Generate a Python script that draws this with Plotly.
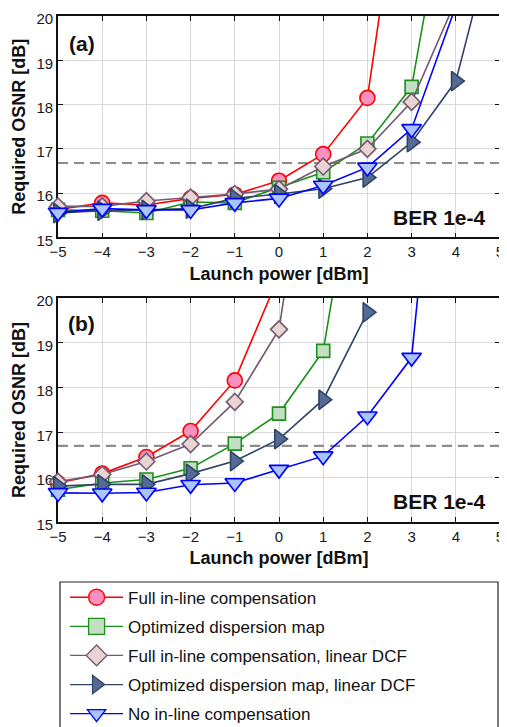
import plotly.graph_objects as go

# ---------------- data ----------------
power_a = [-5, -4, -3, -2, -1, 0, 1, 2, 3, 4, 5]
power_b = [-5, -4, -3, -2, -1, 0, 1, 2, 3, 4, 5]

full_a     = [15.63, 15.78, 15.73, 15.88, 15.97, 16.28, 16.88, 18.15, 25.0]
opt_a      = [15.62, 15.60, 15.55, 15.80, 15.78, 16.12, 16.47, 17.12, 18.40, 24.0]
fulllin_a  = [15.70, 15.70, 15.82, 15.90, 15.98, 16.09, 16.60, 17.00, 18.06, 20.35]
optlin_a   = [15.55, 15.60, 15.62, 15.65, 15.88, 15.98, 16.10, 16.35, 17.15, 18.53, 22.4]
none_a     = [15.56, 15.65, 15.62, 15.62, 15.78, 15.88, 16.17, 16.58, 17.45, 20.22]

full_b     = [15.87, 16.08, 16.45, 17.03, 18.16, 20.5]
opt_b      = [15.72, 15.87, 15.95, 16.20, 16.75, 17.42, 18.82, 24.7]
fulllin_b  = [15.90, 16.06, 16.35, 16.74, 17.68, 19.30, 25.7]
optlin_b   = [15.80, 15.84, 15.84, 16.08, 16.36, 16.85, 17.73, 19.68]
none_b     = [15.65, 15.64, 15.66, 15.83, 15.87, 16.17, 16.47, 17.36, 18.67, 28.5]

threshold_a = 16.68
threshold_b = 16.70

series_names = [
    "Full in-line compensation",
    "Optimized dispersion map",
    "Full in-line compensation, linear DCF",
    "Optimized dispersion map, linear DCF",
    "No in-line compensation",
]
panel_a = [full_a, opt_a, fulllin_a, optlin_a, none_a]
panel_b = [full_b, opt_b, fulllin_b, optlin_b, none_b]

x_ticks = [-5, -4, -3, -2, -1, 0, 1, 2, 3, 4, 5]
y_ticks = [15, 16, 17, 18, 19, 20]
panel_labels = ["(a)", "(b)"]
ber_label = "BER 1e-4"

# ---------------- styles ----------------
FONT = "Liberation Sans, Arial, sans-serif"
styles = [
    dict(line="#FF0000", fill="#F990C2", symbol="circle", size=15),
    dict(line="#1B901B", fill="#C3DFC3", symbol="square", size=13),
    dict(line="#745A70", fill="#E9D3D3", symbol="diamond", size=13),
    dict(line="#2F4468", fill="#566B93", symbol="triangle-right", size=17),
    dict(line="#0000FF", fill="#A9C4FF", symbol="triangle-down", size=17),
]
YMAX = 20

fig = go.Figure()

def add_panel(values, xs, xa, ya, thr):
    fig.add_trace(go.Scatter(
        x=[xs[0], xs[-1]], y=[thr, thr], mode="lines", xaxis=xa, yaxis=ya,
        line=dict(color="#8C8C8C", width=2.2, dash="10px,6px"),
        showlegend=False, hoverinfo="skip"))
    for ys, st in zip(values, styles):
        px = xs[:len(ys)]
        fig.add_trace(go.Scatter(
            x=px, y=ys, mode="lines+markers", xaxis=xa, yaxis=ya,
            cliponaxis=False, showlegend=False,
            line=dict(color=st["line"], width=1.6),
            marker=dict(symbol=st["symbol"], size=st["size"], color=st["fill"],
                        opacity=[1 if v <= YMAX else 0 for v in ys],
                        line=dict(color=st["line"], width=1.6))))

add_panel(panel_a, power_a, "x", "y", threshold_a)
add_panel(panel_b, power_b, "x2", "y2", threshold_b)

# legend entries
for name, st in zip(series_names, styles):
    fig.add_trace(go.Scatter(
        x=[None], y=[None], mode="lines+markers", name=name, legendgroup=name,
        xaxis="x", yaxis="y",
        line=dict(color=st["line"], width=1.3),
        marker=dict(symbol=st["symbol"], size=16, color=st["fill"],
                    line=dict(color=st["line"], width=1.3))))

axis_common = dict(
    showgrid=True, gridcolor="#D9D9D9", gridwidth=1,
    showline=True, linecolor="#111111", linewidth=1.6, mirror="ticks",
    ticks="inside", ticklen=5, tickcolor="#111111", tickwidth=1.3,
    zeroline=False, layer="below traces", ticklabeloverflow="allow",
    tickfont=dict(family=FONT, size=15, color="#1A1A1A"),
)

def xaxis(anchor):
    d = dict(axis_common)
    d.update(range=[-5, 5], tickvals=x_ticks, anchor=anchor,
             title=dict(text="Launch power [dBm]", standoff=8,
                        font=dict(family=FONT, size=18, color="#111", weight="bold")))
    return d

def yaxis(anchor, domain):
    d = dict(axis_common)
    d.update(range=[15, 20], tickvals=y_ticks, anchor=anchor, domain=domain,
             ticklabelshift=3,
             title=dict(text="Required OSNR [dB]", standoff=6,
                        font=dict(family=FONT, size=18, color="#111", weight="bold")))
    return d

# the page body adds an 8px offset, so the figure is sized to fill the rest of the window
fig.update_layout(
    width=499, height=719,
    margin=dict(l=50, r=7, t=8, b=205, autoexpand=False),
    paper_bgcolor="white", plot_bgcolor="white",
    font=dict(family=FONT),
    xaxis=xaxis("y"), yaxis=yaxis("x", [0.5625, 1.0]),
    xaxis2=xaxis("y2"), yaxis2=yaxis("x2", [0.0, 0.4427]),
    legend=dict(x=0.016, y=-0.114, xanchor="left", yanchor="top",
                bgcolor="rgba(0,0,0,0)", borderwidth=0, itemwidth=53,
                tracegroupgap=4, traceorder="grouped",
                font=dict(family=FONT, size=17, color="#111")),
    shapes=[dict(type="rect", xref="paper", yref="paper",
                 x0=0.0045, x1=0.9955, y0=-0.1186, y1=-0.45,
                 line=dict(color="#222", width=1.2), fillcolor="rgba(0,0,0,0)")],
    showlegend=True,
)

for lab, xa, ya, yy in [(panel_labels[0], "x", "y", 19.39), (panel_labels[1], "x2", "y2", 19.44)]:
    fig.add_annotation(x=-4.46, y=yy, xref=xa, yref=ya, text=lab, showarrow=False,
                       font=dict(family=FONT, size=21, color="#111", weight="bold"))
    fig.add_annotation(x=4.72, y=15.45, xref=xa, yref=ya, text=ber_label, showarrow=False,
                       xanchor="right",
                       font=dict(family=FONT, size=21, color="#111", weight="bold"))

fig.write_html("out.html")
